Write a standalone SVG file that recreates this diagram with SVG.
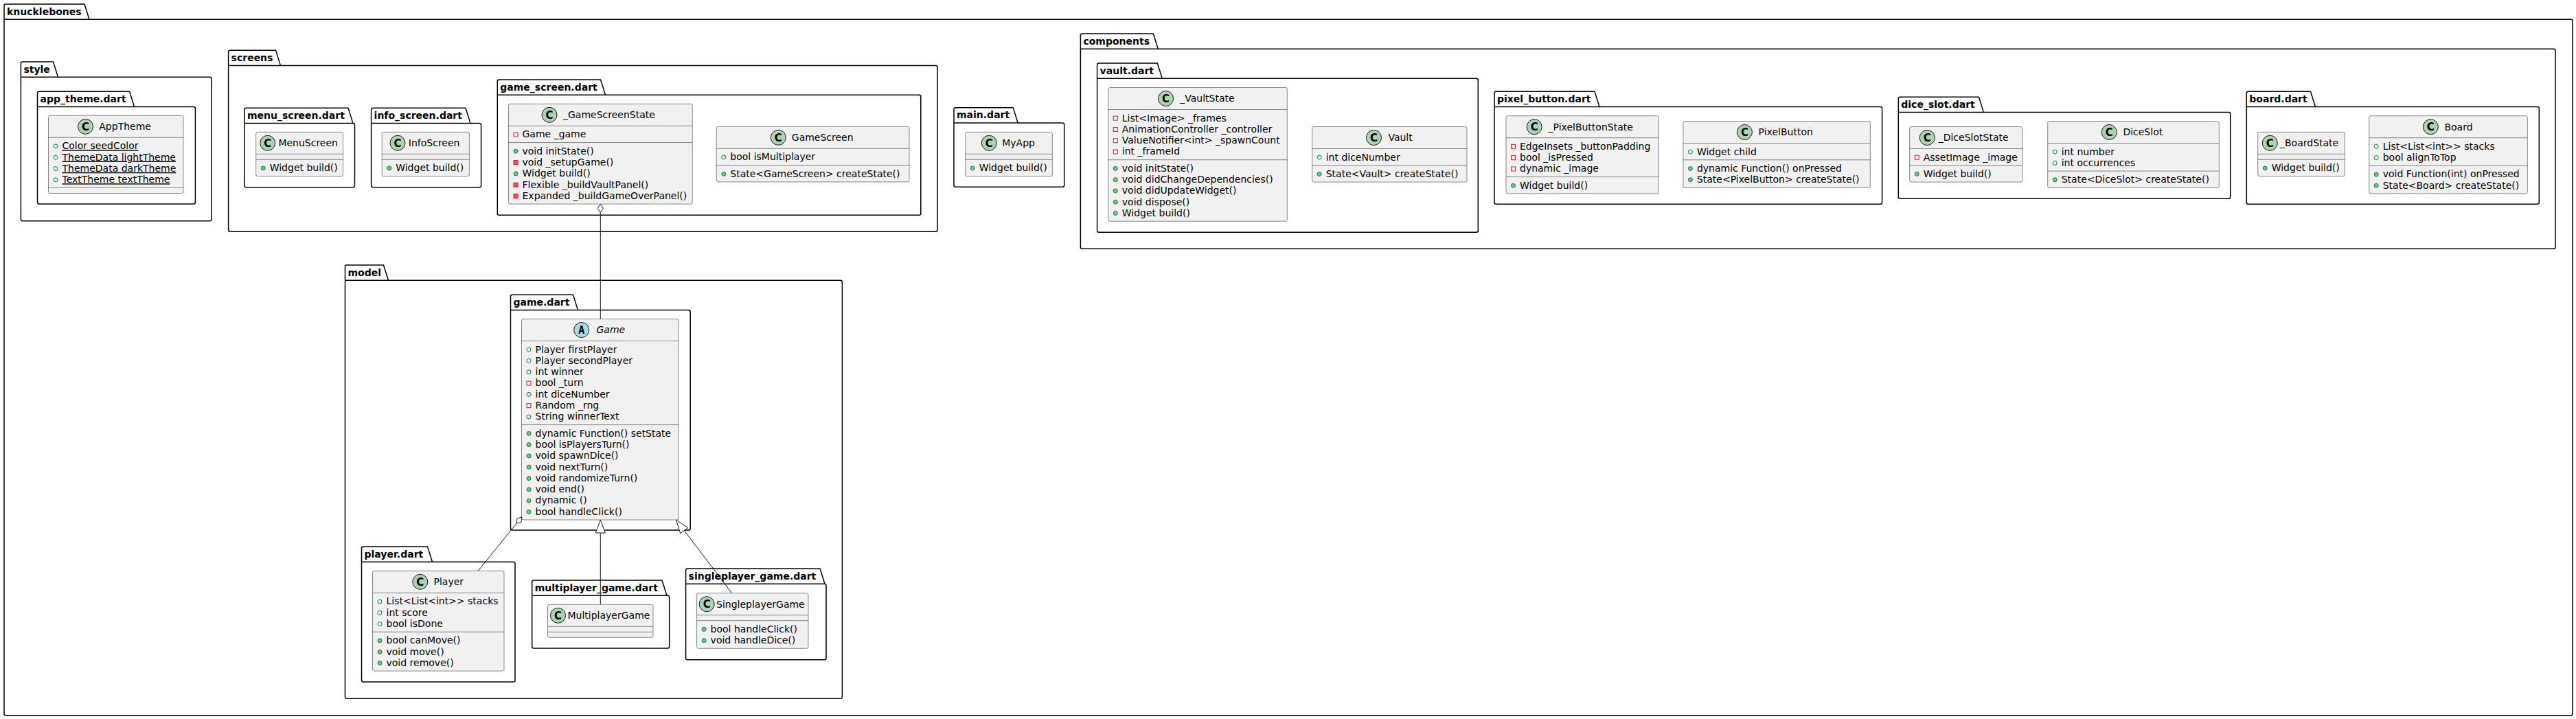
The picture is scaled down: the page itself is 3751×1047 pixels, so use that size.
<svg xmlns="http://www.w3.org/2000/svg" width="3751" height="1047" viewBox="0 0 3751 1047">
<style>
.pk{fill:none;stroke:#000;stroke-width:1.5;stroke-linejoin:round}
.pt{font-family:"DejaVu Sans",sans-serif;font-size:14px;font-weight:bold;fill:#000}
.cb{fill:#F1F1F1;stroke:#181818;stroke-width:0.5}
.sp{stroke:#181818;stroke-width:0.5}
.ci{fill:#ADD1B2;stroke:#181818;stroke-width:1}
.ai{fill:#A9DCDF;stroke:#181818;stroke-width:1}
.cl{font-family:"DejaVu Sans",sans-serif;font-size:15px;font-weight:bold;text-anchor:middle;fill:#000}
.al{font-family:"DejaVu Sans Mono",monospace;font-size:15px;font-weight:bold;text-anchor:middle;fill:#000}
.t{font-family:"DejaVu Sans",sans-serif;font-size:14px;fill:#000}
.it{font-style:italic}
.ul{text-decoration:underline}
.pf{fill:none;stroke:#038048;stroke-width:1}
.pm{fill:#84BE84;stroke:#038048;stroke-width:1}
.xf{fill:none;stroke:#C82930;stroke-width:1}
.xm{fill:#F24D5C;stroke:#C82930;stroke-width:1}
.ln{fill:none;stroke:#181818;stroke-width:1}
.hd{fill:#FFFFFF;stroke:#181818;stroke-width:1}
</style>
<rect x="0" y="0" width="3751" height="1047" fill="#FFFFFF"/>

<g id="packages">
<g id="pkg-knucklebones"><path class="pk" d="M8.5,6 L123,6 L130,28.3 L3743.5,28.3 Q3746,28.3 3746,30.8 L3746,1039.2 Q3746,1041.7 3743.5,1041.7 L8.5,1041.7 Q6,1041.7 6,1039.2 L6,8.5 Q6,6 8.5,6 Z"/><line class="pk" x1="6" y1="28.3" x2="130" y2="28.3"/><text class="pt" x="10" y="21.6">knucklebones</text></g>
<g id="pkg-style"><path class="pk" d="M32.9,90 L77.5,90 L84.5,112.3 L305.5,112.3 Q308,112.3 308,114.8 L308,319.2 Q308,321.7 305.5,321.7 L32.9,321.7 Q30.4,321.7 30.4,319.2 L30.4,92.5 Q30.4,90 32.9,90 Z"/><line class="pk" x1="30.4" y1="112.3" x2="84.5" y2="112.3"/><text class="pt" x="34.4" y="105.6">style</text></g>
<g id="pkg-app_theme"><path class="pk" d="M57,133.3 L188.6,133.3 L195.6,155.6 L281.9,155.6 Q284.4,155.6 284.4,158.1 L284.4,294.5 Q284.4,297 281.9,297 L57,297 Q54.5,297 54.5,294.5 L54.5,135.8 Q54.5,133.3 57,133.3 Z"/><line class="pk" x1="54.5" y1="155.6" x2="195.6" y2="155.6"/><text class="pt" x="58.5" y="148.9">app_theme.dart</text></g>
<g id="pkg-screens"><path class="pk" d="M335.1,73.3 L401.5,73.3 L408.5,95.6 L1362.5,95.6 Q1365,95.6 1365,98.1 L1365,334.8 Q1365,337.3 1362.5,337.3 L335.1,337.3 Q332.6,337.3 332.6,334.8 L332.6,75.8 Q332.6,73.3 335.1,73.3 Z"/><line class="pk" x1="332.6" y1="95.6" x2="408.5" y2="95.6"/><text class="pt" x="336.6" y="88.9">screens</text></g>
<g id="pkg-menu_screen"><path class="pk" d="M358.5,157.3 L507,157.3 L514,179.6 L514,179.6 Q516.5,179.6 516.5,182.1 L516.5,270.2 Q516.5,272.7 514,272.7 L358.5,272.7 Q356,272.7 356,270.2 L356,159.8 Q356,157.3 358.5,157.3 Z"/><line class="pk" x1="356" y1="179.6" x2="514" y2="179.6"/><text class="pt" x="360" y="172.9">menu_screen.dart</text></g>
<g id="pkg-info_screen"><path class="pk" d="M543.1,157.3 L678,157.3 L685,179.6 L698.1,179.6 Q700.6,179.6 700.6,182.1 L700.6,270.2 Q700.6,272.7 698.1,272.7 L543.1,272.7 Q540.6,272.7 540.6,270.2 L540.6,159.8 Q540.6,157.3 543.1,157.3 Z"/><line class="pk" x1="540.6" y1="179.6" x2="685" y2="179.6"/><text class="pt" x="544.6" y="172.9">info_screen.dart</text></g>
<g id="pkg-game_screen"><path class="pk" d="M726.8,116 L874.5,116 L881.5,138.3 L1338.3,138.3 Q1340.8,138.3 1340.8,140.8 L1340.8,310.8 Q1340.8,313.3 1338.3,313.3 L726.8,313.3 Q724.3,313.3 724.3,310.8 L724.3,118.5 Q724.3,116 726.8,116 Z"/><line class="pk" x1="724.3" y1="138.3" x2="881.5" y2="138.3"/><text class="pt" x="728.3" y="131.6">game_screen.dart</text></g>
<g id="pkg-main"><path class="pk" d="M1391.5,156.7 L1475.2,156.7 L1482.2,179 L1547.2,179 Q1549.7,179 1549.7,181.5 L1549.7,269.8 Q1549.7,272.3 1547.2,272.3 L1391.5,272.3 Q1389,272.3 1389,269.8 L1389,159.2 Q1389,156.7 1391.5,156.7 Z"/><line class="pk" x1="1389" y1="179" x2="1482.2" y2="179"/><text class="pt" x="1393" y="172.3">main.dart</text></g>
<g id="pkg-components"><path class="pk" d="M1575.9,49 L1679.3,49 L1686.3,71.3 L3718.5,71.3 Q3721,71.3 3721,73.8 L3721,359.8 Q3721,362.3 3718.5,362.3 L1575.9,362.3 Q1573.4,362.3 1573.4,359.8 L1573.4,51.5 Q1573.4,49 1575.9,49 Z"/><line class="pk" x1="1573.4" y1="71.3" x2="1686.3" y2="71.3"/><text class="pt" x="1577.4" y="64.6">components</text></g>
<g id="pkg-vault"><path class="pk" d="M1600.1,92 L1685.3,92 L1692.3,114.3 L2149.8,114.3 Q2152.3,114.3 2152.3,116.8 L2152.3,335.8 Q2152.3,338.3 2149.8,338.3 L1600.1,338.3 Q1597.6,338.3 1597.6,335.8 L1597.6,94.5 Q1597.6,92 1600.1,92 Z"/><line class="pk" x1="1597.6" y1="114.3" x2="1692.3" y2="114.3"/><text class="pt" x="1601.6" y="107.6">vault.dart</text></g>
<g id="pkg-pixel_button"><path class="pk" d="M2178.5,133.3 L2322,133.3 L2329,155.6 L2738.1,155.6 Q2740.6,155.6 2740.6,158.1 L2740.6,294.8 Q2740.6,297.3 2738.1,297.3 L2178.5,297.3 Q2176,297.3 2176,294.8 L2176,135.8 Q2176,133.3 2178.5,133.3 Z"/><line class="pk" x1="2176" y1="155.6" x2="2329" y2="155.6"/><text class="pt" x="2180" y="148.9">pixel_button.dart</text></g>
<g id="pkg-dice_slot"><path class="pk" d="M2766.8,141.3 L2881.5,141.3 L2888.5,163.6 L3245.2,163.6 Q3247.7,163.6 3247.7,166.1 L3247.7,286.8 Q3247.7,289.3 3245.2,289.3 L2766.8,289.3 Q2764.3,289.3 2764.3,286.8 L2764.3,143.8 Q2764.3,141.3 2766.8,141.3 Z"/><line class="pk" x1="2764.3" y1="163.6" x2="2888.5" y2="163.6"/><text class="pt" x="2768.3" y="156.9">dice_slot.dart</text></g>
<g id="pkg-board"><path class="pk" d="M3273.8,133.3 L3364.5,133.3 L3371.5,155.6 L3694.8,155.6 Q3697.3,155.6 3697.3,158.1 L3697.3,294.8 Q3697.3,297.3 3694.8,297.3 L3273.8,297.3 Q3271.3,297.3 3271.3,294.8 L3271.3,135.8 Q3271.3,133.3 3273.8,133.3 Z"/><line class="pk" x1="3271.3" y1="155.6" x2="3371.5" y2="155.6"/><text class="pt" x="3275.3" y="148.9">board.dart</text></g>
<g id="pkg-model"><path class="pk" d="M505,386 L558.5,386 L565.5,408.3 L1223.9,408.3 Q1226.4,408.3 1226.4,410.8 L1226.4,1014.8 Q1226.4,1017.3 1223.9,1017.3 L505,1017.3 Q502.5,1017.3 502.5,1014.8 L502.5,388.5 Q502.5,386 505,386 Z"/><line class="pk" x1="502.5" y1="408.3" x2="565.5" y2="408.3"/><text class="pt" x="506.5" y="401.6">model</text></g>
<g id="pkg-game"><path class="pk" d="M746,429.3 L834.5,429.3 L841.5,451.6 L1002.7,451.6 Q1005.2,451.6 1005.2,454.1 L1005.2,769.5 Q1005.2,772 1002.7,772 L746,772 Q743.5,772 743.5,769.5 L743.5,431.8 Q743.5,429.3 746,429.3 Z"/><line class="pk" x1="743.5" y1="451.6" x2="841.5" y2="451.6"/><text class="pt" x="747.5" y="444.9">game.dart</text></g>
<g id="pkg-player"><path class="pk" d="M529,796 L622.5,796 L629.5,818.3 L747.5,818.3 Q750,818.3 750,820.8 L750,990.5 Q750,993 747.5,993 L529,993 Q526.5,993 526.5,990.5 L526.5,798.5 Q526.5,796 529,796 Z"/><line class="pk" x1="526.5" y1="818.3" x2="629.5" y2="818.3"/><text class="pt" x="530.5" y="811.6">player.dart</text></g>
<g id="pkg-multiplayer_game"><path class="pk" d="M777.2,845 L964,845 L971,867.3 L972.2,867.3 Q974.7,867.3 974.7,869.8 L974.7,941.5 Q974.7,944 972.2,944 L777.2,944 Q774.7,944 774.7,941.5 L774.7,847.5 Q774.7,845 777.2,845 Z"/><line class="pk" x1="774.7" y1="867.3" x2="971" y2="867.3"/><text class="pt" x="778.7" y="860.6">multiplayer_game.dart</text></g>
<g id="pkg-singleplayer_game"><path class="pk" d="M1001.1,828 L1194,828 L1201,850.3 L1200.5,850.3 Q1203,850.3 1203,852.8 L1203,958.2 Q1203,960.7 1200.5,960.7 L1001.1,960.7 Q998.6,960.7 998.6,958.2 L998.6,830.5 Q998.6,828 1001.1,828 Z"/><line class="pk" x1="998.6" y1="850.3" x2="1201" y2="850.3"/><text class="pt" x="1002.6" y="843.6">singleplayer_game.dart</text></g>
</g>

<g id="AppTheme">
<rect class="cb" x="70.5" y="168.3" width="196.5" height="113.2" rx="2.5"/>
<circle class="ci" cx="124.5" cy="184.3" r="11"/><text class="cl" x="124.5" y="189.6">C</text>
<text class="t" x="144.3" y="189.15">AppTheme</text>
<line class="sp" x1="70.5" y1="200.3" x2="267" y2="200.3"/>
<circle class="pf" cx="81" cy="212.95" r="3"/><text class="t ul" x="90.5" y="217.3">Color seedColor</text>
<circle class="pf" cx="81" cy="229.25" r="3"/><text class="t ul" x="90.5" y="233.6">ThemeData lightTheme</text>
<circle class="pf" cx="81" cy="245.55" r="3"/><text class="t ul" x="90.5" y="249.9">ThemeData darkTheme</text>
<circle class="pf" cx="81" cy="261.85" r="3"/><text class="t ul" x="90.5" y="266.2">TextTheme textTheme</text>
<line class="sp" x1="70.5" y1="273.5" x2="267" y2="273.5"/>
</g>

<g id="MenuScreen">
<rect class="cb" x="372.7" y="192.3" width="126.8" height="64.3" rx="2.5"/>
<circle class="ci" cx="389.7" cy="208.3" r="11"/><text class="cl" x="389.7" y="213.6">C</text>
<text class="t" x="405.4" y="213.15">MenuScreen</text>
<line class="sp" x1="372.7" y1="224.3" x2="499.5" y2="224.3"/>
<line class="sp" x1="372.7" y1="232.3" x2="499.5" y2="232.3"/>
<circle class="pm" cx="383.2" cy="244.95" r="3"/><text class="t" x="392.7" y="249.3">Widget build()</text>
</g>

<g id="InfoScreen">
<rect class="cb" x="556.2" y="192.3" width="127.2" height="64.3" rx="2.5"/>
<circle class="ci" cx="579" cy="208.3" r="11"/><text class="cl" x="579" y="213.6">C</text>
<text class="t" x="594.8" y="213.15">InfoScreen</text>
<line class="sp" x1="556.2" y1="224.3" x2="683.4" y2="224.3"/>
<line class="sp" x1="556.2" y1="232.3" x2="683.4" y2="232.3"/>
<circle class="pm" cx="566.7" cy="244.95" r="3"/><text class="t" x="576.2" y="249.3">Widget build()</text>
</g>

<g id="_GameScreenState">
<rect class="cb" x="740.5" y="151.3" width="267.7" height="145.8" rx="2.5"/>
<circle class="ci" cx="800" cy="167.3" r="11"/><text class="cl" x="800" y="172.6">C</text>
<text class="t" x="820" y="172.15">_GameScreenState</text>
<line class="sp" x1="740.5" y1="183.3" x2="1008.2" y2="183.3"/>
<rect class="xf" x="748" y="192.95" width="6" height="6"/><text class="t" x="760.5" y="200.3">Game _game</text>
<line class="sp" x1="740.5" y1="207.6" x2="1008.2" y2="207.6"/>
<circle class="pm" cx="751" cy="220.25" r="3"/><text class="t" x="760.5" y="224.6">void initState()</text>
<rect class="xm" x="748" y="233.55" width="6" height="6"/><text class="t" x="760.5" y="240.9">void _setupGame()</text>
<circle class="pm" cx="751" cy="252.85" r="3"/><text class="t" x="760.5" y="257.2">Widget build()</text>
<rect class="xm" x="748" y="266.15" width="6" height="6"/><text class="t" x="760.5" y="273.5">Flexible _buildVaultPanel()</text>
<rect class="xm" x="748" y="282.45" width="6" height="6"/><text class="t" x="760.5" y="289.8">Expanded _buildGameOverPanel()</text>
</g>

<g id="GameScreen">
<rect class="cb" x="1043.3" y="184.3" width="280.7" height="80.6" rx="2.5"/>
<circle class="ci" cx="1133.3" cy="200.3" r="11"/><text class="cl" x="1133.3" y="205.6">C</text>
<text class="t" x="1152.8" y="205.15">GameScreen</text>
<line class="sp" x1="1043.3" y1="216.3" x2="1324" y2="216.3"/>
<circle class="pf" cx="1053.8" cy="228.95" r="3"/><text class="t" x="1063.3" y="233.3">bool isMultiplayer</text>
<line class="sp" x1="1043.3" y1="240.6" x2="1324" y2="240.6"/>
<circle class="pm" cx="1053.8" cy="253.25" r="3"/><text class="t" x="1063.3" y="257.6">State&lt;GameScreen&gt; createState()</text>
</g>

<g id="MyApp">
<rect class="cb" x="1405.7" y="192.3" width="126.6" height="64.3" rx="2.5"/>
<circle class="ci" cx="1440.3" cy="208.3" r="11"/><text class="cl" x="1440.3" y="213.6">C</text>
<text class="t" x="1459.2" y="213.15">MyApp</text>
<line class="sp" x1="1405.7" y1="224.3" x2="1532.3" y2="224.3"/>
<line class="sp" x1="1405.7" y1="232.3" x2="1532.3" y2="232.3"/>
<circle class="pm" cx="1416.2" cy="244.95" r="3"/><text class="t" x="1425.7" y="249.3">Widget build()</text>
</g>

<g id="_VaultState">
<rect class="cb" x="1613.8" y="127.5" width="260.5" height="194.7" rx="2.5"/>
<circle class="ci" cx="1697.6" cy="143.5" r="11"/><text class="cl" x="1697.6" y="148.8">C</text>
<text class="t" x="1718.2" y="148.35">_VaultState</text>
<line class="sp" x1="1613.8" y1="159.5" x2="1874.3" y2="159.5"/>
<rect class="xf" x="1621.3" y="169.15" width="6" height="6"/><text class="t" x="1633.8" y="176.5">List&lt;Image&gt; _frames</text>
<rect class="xf" x="1621.3" y="185.45" width="6" height="6"/><text class="t" x="1633.8" y="192.8">AnimationController _controller</text>
<rect class="xf" x="1621.3" y="201.75" width="6" height="6"/><text class="t" x="1633.8" y="209.1">ValueNotifier&lt;int&gt; _spawnCount</text>
<rect class="xf" x="1621.3" y="218.05" width="6" height="6"/><text class="t" x="1633.8" y="225.4">int _frameId</text>
<line class="sp" x1="1613.8" y1="232.7" x2="1874.3" y2="232.7"/>
<circle class="pm" cx="1624.3" cy="245.35" r="3"/><text class="t" x="1633.8" y="249.7">void initState()</text>
<circle class="pm" cx="1624.3" cy="261.65" r="3"/><text class="t" x="1633.8" y="266">void didChangeDependencies()</text>
<circle class="pm" cx="1624.3" cy="277.95" r="3"/><text class="t" x="1633.8" y="282.3">void didUpdateWidget()</text>
<circle class="pm" cx="1624.3" cy="294.25" r="3"/><text class="t" x="1633.8" y="298.6">void dispose()</text>
<circle class="pm" cx="1624.3" cy="310.55" r="3"/><text class="t" x="1633.8" y="314.9">Widget build()</text>
</g>

<g id="Vault">
<rect class="cb" x="1910.7" y="184.5" width="225.3" height="80.6" rx="2.5"/>
<circle class="ci" cx="2000.5" cy="200.5" r="11"/><text class="cl" x="2000.5" y="205.8">C</text>
<text class="t" x="2021.4" y="205.35">Vault</text>
<line class="sp" x1="1910.7" y1="216.5" x2="2136" y2="216.5"/>
<circle class="pf" cx="1921.2" cy="229.15" r="3"/><text class="t" x="1930.7" y="233.5">int diceNumber</text>
<line class="sp" x1="1910.7" y1="240.8" x2="2136" y2="240.8"/>
<circle class="pm" cx="1921.2" cy="253.45" r="3"/><text class="t" x="1930.7" y="257.8">State&lt;Vault&gt; createState()</text>
</g>

<g id="_PixelButtonState">
<rect class="cb" x="2193" y="168.7" width="222.3" height="113.2" rx="2.5"/>
<circle class="ci" cx="2234.2" cy="184.7" r="11"/><text class="cl" x="2234.2" y="190">C</text>
<text class="t" x="2254.5" y="189.55">_PixelButtonState</text>
<line class="sp" x1="2193" y1="200.7" x2="2415.3" y2="200.7"/>
<rect class="xf" x="2200.5" y="210.35" width="6" height="6"/><text class="t" x="2213" y="217.7">EdgeInsets _buttonPadding</text>
<rect class="xf" x="2200.5" y="226.65" width="6" height="6"/><text class="t" x="2213" y="234">bool _isPressed</text>
<rect class="xf" x="2200.5" y="242.95" width="6" height="6"/><text class="t" x="2213" y="250.3">dynamic _image</text>
<line class="sp" x1="2193" y1="257.6" x2="2415.3" y2="257.6"/>
<circle class="pm" cx="2203.5" cy="270.25" r="3"/><text class="t" x="2213" y="274.6">Widget build()</text>
</g>

<g id="PixelButton">
<rect class="cb" x="2450.9" y="176.5" width="272.4" height="96.9" rx="2.5"/>
<circle class="ci" cx="2540.4" cy="192.5" r="11"/><text class="cl" x="2540.4" y="197.8">C</text>
<text class="t" x="2560.6" y="197.35">PixelButton</text>
<line class="sp" x1="2450.9" y1="208.5" x2="2723.3" y2="208.5"/>
<circle class="pf" cx="2461.4" cy="221.15" r="3"/><text class="t" x="2470.9" y="225.5">Widget child</text>
<line class="sp" x1="2450.9" y1="232.8" x2="2723.3" y2="232.8"/>
<circle class="pm" cx="2461.4" cy="245.45" r="3"/><text class="t" x="2470.9" y="249.8">dynamic Function() onPressed</text>
<circle class="pm" cx="2461.4" cy="261.75" r="3"/><text class="t" x="2470.9" y="266.1">State&lt;PixelButton&gt; createState()</text>
</g>

<g id="_DiceSlotState">
<rect class="cb" x="2780.7" y="184.5" width="164.3" height="80.6" rx="2.5"/>
<circle class="ci" cx="2806.3" cy="200.5" r="11"/><text class="cl" x="2806.3" y="205.8">C</text>
<text class="t" x="2822.7" y="205.35">_DiceSlotState</text>
<line class="sp" x1="2780.7" y1="216.5" x2="2945" y2="216.5"/>
<rect class="xf" x="2788.2" y="226.15" width="6" height="6"/><text class="t" x="2800.7" y="233.5">AssetImage _image</text>
<line class="sp" x1="2780.7" y1="240.8" x2="2945" y2="240.8"/>
<circle class="pm" cx="2791.2" cy="253.45" r="3"/><text class="t" x="2800.7" y="257.8">Widget build()</text>
</g>

<g id="DiceSlot">
<rect class="cb" x="2981.7" y="176.5" width="249.6" height="96.9" rx="2.5"/>
<circle class="ci" cx="3071.3" cy="192.5" r="11"/><text class="cl" x="3071.3" y="197.8">C</text>
<text class="t" x="3091.4" y="197.35">DiceSlot</text>
<line class="sp" x1="2981.7" y1="208.5" x2="3231.3" y2="208.5"/>
<circle class="pf" cx="2992.2" cy="221.15" r="3"/><text class="t" x="3001.7" y="225.5">int number</text>
<circle class="pf" cx="2992.2" cy="237.45" r="3"/><text class="t" x="3001.7" y="241.8">int occurrences</text>
<line class="sp" x1="2981.7" y1="249.1" x2="3231.3" y2="249.1"/>
<circle class="pm" cx="2992.2" cy="261.75" r="3"/><text class="t" x="3001.7" y="266.1">State&lt;DiceSlot&gt; createState()</text>
</g>

<g id="_BoardState">
<rect class="cb" x="3287.7" y="192.3" width="126.6" height="64.3" rx="2.5"/>
<circle class="ci" cx="3305.3" cy="208.3" r="11"/><text class="cl" x="3305.3" y="213.6">C</text>
<text class="t" x="3320" y="213.15">_BoardState</text>
<line class="sp" x1="3287.7" y1="224.3" x2="3414.3" y2="224.3"/>
<line class="sp" x1="3287.7" y1="232.3" x2="3414.3" y2="232.3"/>
<circle class="pm" cx="3298.2" cy="244.95" r="3"/><text class="t" x="3307.7" y="249.3">Widget build()</text>
</g>

<g id="Board">
<rect class="cb" x="3449.7" y="168.7" width="230.6" height="113.2" rx="2.5"/>
<circle class="ci" cx="3539.3" cy="184.7" r="11"/><text class="cl" x="3539.3" y="190">C</text>
<text class="t" x="3559.4" y="189.55">Board</text>
<line class="sp" x1="3449.7" y1="200.7" x2="3680.3" y2="200.7"/>
<circle class="pf" cx="3460.2" cy="213.35" r="3"/><text class="t" x="3469.7" y="217.7">List&lt;List&lt;int&gt;&gt; stacks</text>
<circle class="pf" cx="3460.2" cy="229.65" r="3"/><text class="t" x="3469.7" y="234">bool alignToTop</text>
<line class="sp" x1="3449.7" y1="241.3" x2="3680.3" y2="241.3"/>
<circle class="pm" cx="3460.2" cy="253.95" r="3"/><text class="t" x="3469.7" y="258.3">void Function(int) onPressed</text>
<circle class="pm" cx="3460.2" cy="270.25" r="3"/><text class="t" x="3469.7" y="274.6">State&lt;Board&gt; createState()</text>
</g>

<g id="Game">
<rect class="cb" x="759.5" y="464.5" width="228.5" height="292.5" rx="2.5"/>
<circle class="ai" cx="846.7" cy="480.5" r="11"/><text class="al" x="846.7" y="485.8">A</text>
<text class="t it" x="868.5" y="485.35">Game</text>
<line class="sp" x1="759.5" y1="496.5" x2="988" y2="496.5"/>
<circle class="pf" cx="770" cy="509.15" r="3"/><text class="t" x="779.5" y="513.5">Player firstPlayer</text>
<circle class="pf" cx="770" cy="525.45" r="3"/><text class="t" x="779.5" y="529.8">Player secondPlayer</text>
<circle class="pf" cx="770" cy="541.75" r="3"/><text class="t" x="779.5" y="546.1">int winner</text>
<rect class="xf" x="767" y="555.05" width="6" height="6"/><text class="t" x="779.5" y="562.4">bool _turn</text>
<circle class="pf" cx="770" cy="574.35" r="3"/><text class="t" x="779.5" y="578.7">int diceNumber</text>
<rect class="xf" x="767" y="587.65" width="6" height="6"/><text class="t" x="779.5" y="595">Random _rng</text>
<circle class="pf" cx="770" cy="606.95" r="3"/><text class="t" x="779.5" y="611.3">String winnerText</text>
<line class="sp" x1="759.5" y1="618.6" x2="988" y2="618.6"/>
<circle class="pm" cx="770" cy="631.25" r="3"/><text class="t" x="779.5" y="635.6">dynamic Function() setState</text>
<circle class="pm" cx="770" cy="647.55" r="3"/><text class="t" x="779.5" y="651.9">bool isPlayersTurn()</text>
<circle class="pm" cx="770" cy="663.85" r="3"/><text class="t" x="779.5" y="668.2">void spawnDice()</text>
<circle class="pm" cx="770" cy="680.15" r="3"/><text class="t" x="779.5" y="684.5">void nextTurn()</text>
<circle class="pm" cx="770" cy="696.45" r="3"/><text class="t" x="779.5" y="700.8">void randomizeTurn()</text>
<circle class="pm" cx="770" cy="712.75" r="3"/><text class="t" x="779.5" y="717.1">void end()</text>
<circle class="pm" cx="770" cy="729.05" r="3"/><text class="t" x="779.5" y="733.4">dynamic ()</text>
<circle class="pm" cx="770" cy="745.35" r="3"/><text class="t" x="779.5" y="749.7">bool handleClick()</text>
</g>

<g id="Player">
<rect class="cb" x="542.5" y="831.3" width="191.5" height="145.8" rx="2.5"/>
<circle class="ci" cx="611.8" cy="847.3" r="11"/><text class="cl" x="611.8" y="852.6">C</text>
<text class="t" x="631.5" y="852.15">Player</text>
<line class="sp" x1="542.5" y1="863.3" x2="734" y2="863.3"/>
<circle class="pf" cx="553" cy="875.95" r="3"/><text class="t" x="562.5" y="880.3">List&lt;List&lt;int&gt;&gt; stacks</text>
<circle class="pf" cx="553" cy="892.25" r="3"/><text class="t" x="562.5" y="896.6">int score</text>
<circle class="pf" cx="553" cy="908.55" r="3"/><text class="t" x="562.5" y="912.9">bool isDone</text>
<line class="sp" x1="542.5" y1="920.2" x2="734" y2="920.2"/>
<circle class="pm" cx="553" cy="932.85" r="3"/><text class="t" x="562.5" y="937.2">bool canMove()</text>
<circle class="pm" cx="553" cy="949.15" r="3"/><text class="t" x="562.5" y="953.5">void move()</text>
<circle class="pm" cx="553" cy="965.45" r="3"/><text class="t" x="562.5" y="969.8">void remove()</text>
</g>

<g id="MultiplayerGame">
<rect class="cb" x="797.5" y="880.3" width="153.5" height="48" rx="2.5"/>
<circle class="ci" cx="812.5" cy="896.3" r="11"/><text class="cl" x="812.5" y="901.6">C</text>
<text class="t" x="826.5" y="901.15">MultiplayerGame</text>
<line class="sp" x1="797.5" y1="912.3" x2="951" y2="912.3"/>
<line class="sp" x1="797.5" y1="920.3" x2="951" y2="920.3"/>
</g>

<g id="SingleplayerGame">
<rect class="cb" x="1014.6" y="863.7" width="162.4" height="80.6" rx="2.5"/>
<circle class="ci" cx="1029.2" cy="879.7" r="11"/><text class="cl" x="1029.2" y="885">C</text>
<text class="t" x="1043" y="884.55">SingleplayerGame</text>
<line class="sp" x1="1014.6" y1="895.7" x2="1177" y2="895.7"/>
<line class="sp" x1="1014.6" y1="903.7" x2="1177" y2="903.7"/>
<circle class="pm" cx="1025.1" cy="916.35" r="3"/><text class="t" x="1034.6" y="920.7">bool handleClick()</text>
<circle class="pm" cx="1025.1" cy="932.65" r="3"/><text class="t" x="1034.6" y="937">void handleDice()</text>
</g>

<g id="connectors">
<line class="ln" x1="874.3" y1="309.3" x2="874.3" y2="464.5"/>
<polygon class="hd" points="874.3,297.3 878.3,303.3 874.3,309.3 870.3,303.3"/>
<line class="ln" x1="752.1" y1="762.2" x2="696.2" y2="831.3"/>
<polygon class="hd" points="759.8,753 759,760.2 752.1,762.2 752.9,755.1"/>
<line class="ln" x1="874.3" y1="776" x2="874.3" y2="880.3"/>
<polygon class="hd" points="874.3,757 881.3,776 867.3,776"/>
<line class="ln" x1="996.3" y1="772.5" x2="1065.7" y2="863.7"/>
<polygon class="hd" points="984.5,757 1001.9,768.3 990.7,776.7"/>
</g>
</svg>
